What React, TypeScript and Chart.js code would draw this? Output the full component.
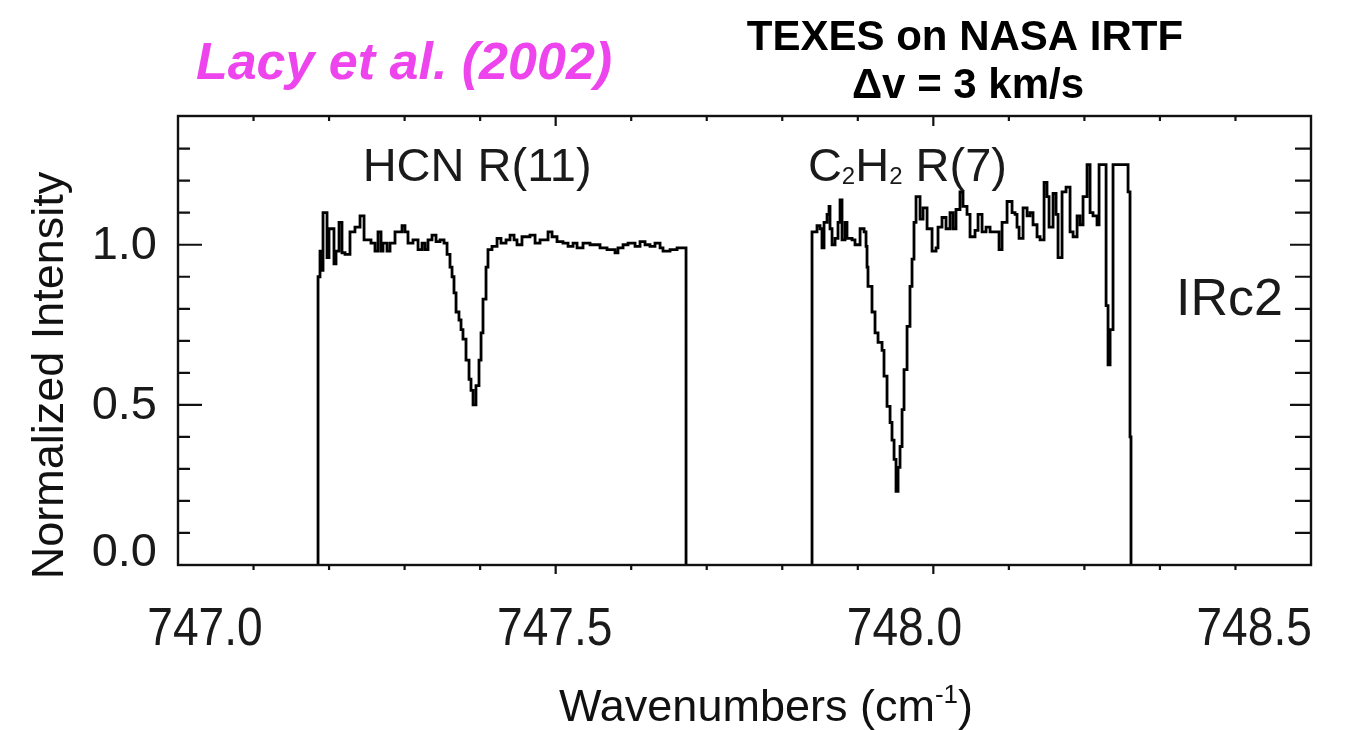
import React, { useEffect, useRef } from 'react';
import { Chart, registerables } from 'chart.js';

Chart.register(...registerables);

// HCN R(11) window: wavenumber (cm^-1) and normalized intensity (histogram steps)
const hcnWavenumber = [
  747.1854, 747.1854, 747.1880, 747.1907, 747.1920, 747.1973, 747.1999, 747.2065, 747.2092, 747.2132,
  747.2171, 747.2211, 747.2277, 747.2343, 747.2410, 747.2463, 747.2555, 747.2608, 747.2648, 747.2688,
  747.2714, 747.2767, 747.2807, 747.2873, 747.2966, 747.3005, 747.3045, 747.3111, 747.3178, 747.3231,
  747.3270, 747.3310, 747.3363, 747.3416, 747.3469, 747.3522, 747.3562, 747.3601, 747.3628, 747.3654,
  747.3681, 747.3720, 747.3747, 747.3773, 747.3813, 747.3853, 747.3879, 747.3906, 747.3945, 747.3985,
  747.4012, 747.4038, 747.4078, 747.4104, 747.4157, 747.4224, 747.4276, 747.4343, 747.4396, 747.4449,
  747.4488, 747.4554, 747.4660, 747.4727, 747.4793, 747.4899, 747.4952, 747.5018, 747.5097, 747.5164,
  747.5230, 747.5283, 747.5362, 747.5455, 747.5521, 747.5587, 747.5680, 747.5786, 747.5825, 747.5892,
  747.5958, 747.6051, 747.6117, 747.6183, 747.6249, 747.6315, 747.6382, 747.6421, 747.6514, 747.6607,
  747.6673, 747.6726,
];
const hcnIntensity = [
  0, 0.90, 0.98, 0.92, 1.10, 0.96, 1.05, 0.94, 0.98, 1.07,
  0.975, 0.97, 1.04, 1.055, 1.09, 1.015, 1.005, 0.98, 1.04, 0.98,
  1.005, 0.98, 1.005, 1.04, 1.06, 1.04, 1.005, 1.015, 0.985, 1.005,
  0.985, 1.015, 1.03, 1.01, 1.015, 1.005, 0.97, 0.93, 0.90, 0.85,
  0.79, 0.765, 0.735, 0.705, 0.64, 0.58, 0.545, 0.50, 0.56, 0.64,
  0.725, 0.83, 0.93, 0.985, 0.995, 1.02, 1.005, 1.015, 1.03, 1.015,
  1.00, 1.025, 1.03, 1.005, 1.015, 1.04, 1.025, 1.01, 1.005, 0.995,
  1.005, 0.99, 1.005, 1.00, 1.00, 0.99, 0.985, 0.975, 0.99, 1.00,
  1.005, 0.995, 1.01, 1.00, 0.995, 1.005, 0.99, 0.98, 0.985, 0.99,
  0.99, 0,
];

// C2H2 R(7) window
const c2h2Wavenumber = [
  747.8394, 747.8394, 747.8460, 747.8500, 747.8526, 747.8553, 747.8593, 747.8619, 747.8632, 747.8659,
  747.8699, 747.8738, 747.8765, 747.8791, 747.8831, 747.8857, 747.8924, 747.8963, 747.9030, 747.9083,
  747.9109, 747.9122, 747.9135, 747.9188, 747.9228, 747.9268, 747.9321, 747.9347, 747.9387, 747.9427,
  747.9453, 747.9480, 747.9506, 747.9533, 747.9559, 747.9586, 747.9612, 747.9652, 747.9691, 747.9718,
  747.9744, 747.9771, 747.9824, 747.9864, 747.9917, 747.9983, 748.0036, 748.0062, 748.0115, 748.0168,
  748.0221, 748.0261, 748.0300, 748.0353, 748.0393, 748.0446, 748.0486, 748.0552, 748.0592, 748.0645,
  748.0698, 748.0751, 748.0817, 748.0870, 748.0910, 748.0976, 748.1042, 748.1082, 748.1108, 748.1135,
  748.1188, 748.1241, 748.1280, 748.1320, 748.1373, 748.1413, 748.1466, 748.1505, 748.1532, 748.1585,
  748.1625, 748.1651, 748.1704, 748.1757, 748.1810, 748.1850, 748.1903, 748.1942, 748.1982, 748.2035,
  748.2075, 748.2114, 748.2167, 748.2194, 748.2287, 748.2313, 748.2340, 748.2379, 748.2578, 748.2604,
  748.2617,
];
const c2h2Intensity = [
  0, 1.04, 1.06, 1.05, 0.99, 1.07, 1.095, 1.12, 1.05, 1.00,
  1.02, 1.07, 1.14, 1.015, 1.07, 1.02, 1.015, 1.00, 1.05, 1.04,
  0.995, 0.93, 0.87, 0.79, 0.725, 0.695, 0.67, 0.59, 0.495, 0.445,
  0.39, 0.33, 0.23, 0.305, 0.37, 0.485, 0.61, 0.745, 0.87, 0.955,
  1.07, 1.15, 1.08, 1.115, 1.05, 0.98, 0.99, 1.055, 1.085, 1.05,
  1.10, 1.05, 1.11, 1.165, 1.12, 1.095, 1.025, 1.045, 1.095, 1.04,
  1.055, 1.04, 1.04, 0.985, 1.07, 1.135, 1.10, 1.095, 1.055, 1.02,
  1.115, 1.09, 1.10, 1.0625, 1.025, 1.015, 1.195, 1.15, 1.055, 1.16,
  1.095, 0.96, 1.165, 1.18, 1.04, 1.025, 1.09, 1.0625, 1.15, 1.25,
  1.10, 1.09, 1.0625, 1.25, 0.81, 0.625, 0.735, 1.25, 1.165, 0.40,
  0,
];

// Axis ranges and labelled ticks
const X_MIN = 747.0;
const X_MAX = 748.5;
const Y_MIN = 0;
const Y_MAX = 1.402;
const MINOR_STEP = 0.1;
const xTickValues = [747.0, 747.5, 748.0, 748.5];
const xTickLabels = ['747.0', '747.5', '748.0', '748.5'];
const yTickValues = [0.0, 0.5, 1.0];
const yTickLabels = ['0.0', '0.5', '1.0'];

const FONT = '"Liberation Sans", Arial, Helvetica, sans-serif';

const toPoints = (xs: number[], ys: number[]) => xs.map((x, i) => ({ x, y: ys[i] }));

const frameAndTextPlugin = {
  id: 'frameAndText',
  afterDraw(chart: any) {
    const { ctx, chartArea: a } = chart;
    const xs = chart.scales.x;
    const ys = chart.scales.y;
    ctx.save();

    // plot frame
    ctx.strokeStyle = '#111';
    ctx.lineWidth = 2.4;
    ctx.strokeRect(a.left, a.top, a.right - a.left, a.bottom - a.top);

    // y ticks: inward on both sides, long at labelled values
    ctx.lineWidth = 2.2;
    const nY = Math.round((1.3 - Y_MIN) / MINOR_STEP);
    ctx.beginPath();
    for (let k = 1; k <= nY; k++) {
      const v = Y_MIN + k * MINOR_STEP;
      const py = ys.getPixelForValue(v);
      const major = k % 5 === 0;
      ctx.moveTo(a.left, py);
      ctx.lineTo(a.left + (major ? 24 : 12), py);
      ctx.moveTo(a.right, py);
      ctx.lineTo(a.right - (major ? 21 : 16), py);
    }
    // x ticks
    const nX = Math.round((X_MAX - X_MIN) / MINOR_STEP);
    for (let k = 1; k < nX; k++) {
      const v = X_MIN + k * MINOR_STEP;
      const px = xs.getPixelForValue(v);
      const major = k % 5 === 0;
      ctx.moveTo(px, a.bottom);
      ctx.lineTo(px, a.bottom + (major ? 9 : 5));
      ctx.moveTo(px, a.top);
      ctx.lineTo(px, a.top + (major ? 10 : 5));
    }
    ctx.stroke();

    ctx.fillStyle = '#1a1a1a';

    // y tick labels
    ctx.font = `47px ${FONT}`;
    ctx.textAlign = 'right';
    yTickValues.forEach((v, i) => {
      const py = ys.getPixelForValue(v);
      ctx.textBaseline = v === Y_MIN ? 'alphabetic' : 'middle';
      ctx.fillText(yTickLabels[i], a.left - 21, py + 1);
    });

    // x tick labels (row slightly narrower than the axis)
    ctx.font = `53px ${FONT}`;
    ctx.textAlign = 'center';
    ctx.textBaseline = 'alphabetic';
    xTickValues.forEach((v, i) => {
      const px = xs.getPixelForValue(v);
      const cx = a.left + 27 + (px - a.left) * 0.926;
      ctx.save();
      ctx.translate(cx, a.bottom + 80);
      ctx.scale(0.87, 1);
      ctx.fillText(xTickLabels[i], 0, 0);
      ctx.restore();
    });

    // axis titles
    ctx.fillStyle = '#111';
    ctx.font = `45px ${FONT}`;
    ctx.save();
    ctx.translate(63, (a.top + a.bottom) / 2 + 35);
    ctx.rotate(-Math.PI / 2);
    ctx.textAlign = 'center';
    ctx.textBaseline = 'alphabetic';
    ctx.fillText('Normalized Intensity', 0, 0);
    ctx.restore();

    {
      const main = 'Wavenumbers (cm';
      const sup = '-1';
      const close = ')';
      ctx.font = `45px ${FONT}`;
      const w1 = ctx.measureText(main).width;
      const w3 = ctx.measureText(close).width;
      ctx.font = `26px ${FONT}`;
      const w2 = ctx.measureText(sup).width;
      const total = w1 + w2 + w3;
      const x0 = 766 - total / 2;
      const base = 721;
      ctx.textAlign = 'left';
      ctx.font = `45px ${FONT}`;
      ctx.fillText(main, x0, base);
      ctx.font = `26px ${FONT}`;
      ctx.fillText(sup, x0 + w1, base - 18);
      ctx.font = `45px ${FONT}`;
      ctx.fillText(close, x0 + w1 + w2, base);
    }

    // line identifications inside the plot
    ctx.fillStyle = '#1a1a1a';
    ctx.textBaseline = 'alphabetic';
    ctx.font = `47px ${FONT}`;
    ctx.textAlign = 'center';
    ctx.fillText('HCN R(11)', xs.getPixelForValue(747.396), ys.getPixelForValue(1.2));

    {
      const parts: [string, boolean][] = [['C', false], ['2', true], ['H', false], ['2', true], [' R(7)', false]];
      const big = `47px ${FONT}`;
      const small = `24px ${FONT}`;
      let total = 0;
      parts.forEach(([t, sub]) => {
        ctx.font = sub ? small : big;
        total += ctx.measureText(t).width;
      });
      let x0 = xs.getPixelForValue(747.9657) - total / 2;
      const base = ys.getPixelForValue(1.2);
      ctx.textAlign = 'left';
      parts.forEach(([t, sub]) => {
        ctx.font = sub ? small : big;
        ctx.fillText(t, x0, sub ? base + 3 : base);
        x0 += ctx.measureText(t).width;
      });
    }

    ctx.font = `52px ${FONT}`;
    ctx.textAlign = 'center';
    ctx.fillText('IRc2', xs.getPixelForValue(748.392), ys.getPixelForValue(0.78));

    // headings above the plot
    ctx.fillStyle = '#ee44ee';
    ctx.font = `italic bold 52px ${FONT}`;
    ctx.fillText('Lacy et al. (2002)', 404, 79);

    ctx.fillStyle = '#000';
    ctx.font = `bold 42px ${FONT}`;
    ctx.fillText('TEXES on NASA IRTF', 965, 50);
    ctx.fillText('\u0394v = 3 km/s', 968, 98);

    ctx.restore();
  },
};

export default function App() {
  const canvasRef = useRef<HTMLCanvasElement>(null);

  useEffect(() => {
    const canvas = canvasRef.current;
    if (!canvas) return;
    const lineStyle = {
      stepped: true as const,
      borderColor: '#000',
      borderWidth: 2.8,
      pointRadius: 0,
      fill: false,
    };
    const chart = new Chart(canvas, {
      type: 'line',
      data: {
        datasets: [
          { label: 'HCN R(11)', data: toPoints(hcnWavenumber, hcnIntensity), ...lineStyle },
          { label: 'C2H2 R(7)', data: toPoints(c2h2Wavenumber, c2h2Intensity), ...lineStyle },
        ],
      },
      options: {
        responsive: false,
        animation: false,
        layout: { padding: { left: 178, top: 116, right: 59, bottom: 165 } },
        plugins: { legend: { display: false }, tooltip: { enabled: false } },
        scales: {
          x: { type: 'linear', min: X_MIN, max: X_MAX, display: false },
          y: { type: 'linear', min: Y_MIN, max: Y_MAX, display: false },
        },
      },
      plugins: [frameAndTextPlugin],
    });
    return () => chart.destroy();
  }, []);

  return (
    <div style={{ position: 'absolute', left: 0, top: 0, width: 1370, height: 730, background: '#fff' }}>
      <canvas ref={canvasRef} width={1370} height={730} style={{ display: 'block' }} />
    </div>
  );
}
